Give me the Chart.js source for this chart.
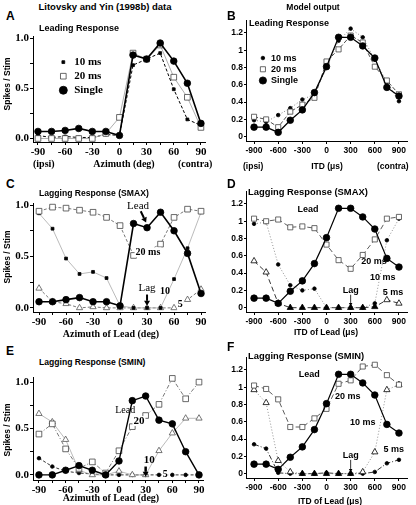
<!DOCTYPE html>
<html>
<head>
<meta charset="utf-8">
<script src="https://cdn.jsdelivr.net/npm/chart.js@4.4.1/dist/chart.umd.min.js"></script>
<style>
  body { margin: 0; background: #fff; }
  #fig { position: relative; width: 416px; height: 505px; overflow: hidden; }
  #fig canvas { position: absolute; }
  .t { position: absolute; white-space: nowrap; font-family: "Liberation Sans", Arial, sans-serif; font-weight: bold; color: #000; line-height: 1; }
  .s { font-family: "Liberation Serif", "Times New Roman", serif; }
  .c { transform: translate(-50%, -50%); }
  .l { transform: translate(0, -50%); }
  .r { transform: translate(-50%, -50%) rotate(-90deg); }
</style>
</head>
<body>
<div id="fig">
  <canvas id="pA"></canvas>
  <canvas id="pB"></canvas>
  <canvas id="pC"></canvas>
  <canvas id="pD"></canvas>
  <canvas id="pE"></canvas>
  <canvas id="pF"></canvas>

  <div class="t c" style="left:105px;top:7px;font-size:9.5px">Litovsky and Yin (1998b) data</div>
  <div class="t c" style="left:313px;top:7px;font-size:8.5px">Model output</div>

  <div class="t l" style="left:6px;top:16px;font-size:12px">A</div>
  <div class="t l" style="left:227px;top:16px;font-size:12px">B</div>
  <div class="t l" style="left:6px;top:184px;font-size:12px">C</div>
  <div class="t l" style="left:227px;top:184px;font-size:12px">D</div>
  <div class="t l" style="left:6px;top:351px;font-size:12px">E</div>
  <div class="t l" style="left:227px;top:347px;font-size:12px">F</div>

  <div class="t l" style="left:39px;top:28px;font-size:9px">Leading Response</div>
  <div class="t l" style="left:249px;top:23px;font-size:9px">Leading Response</div>
  <div class="t l" style="left:39px;top:193px;font-size:8.6px">Lagging Response (SMAX)</div>
  <div class="t l" style="left:248px;top:192px;font-size:9.4px">Lagging Response (SMAX)</div>
  <div class="t l" style="left:39px;top:362px;font-size:8.6px">Lagging Response (SMIN)</div>
  <div class="t l" style="left:248px;top:356px;font-size:9.4px">Lagging Response (SMIN)</div>

  <div class="t r" style="left:7px;top:84px;font-size:8.5px">Spikes / Stim</div>
  <div class="t r" style="left:7px;top:257px;font-size:8.5px">Spikes / Stim</div>
  <div class="t r" style="left:7px;top:430px;font-size:8.5px">Spikes / Stim</div>

  <div class="t s l" style="left:33px;top:164px;font-size:10px">(ipsi)</div>
  <div class="t s c" style="left:124px;top:164px;font-size:10px">Azimuth (deg)</div>
  <div class="t s l" style="left:178px;top:164px;font-size:10px">(contra)</div>

  <div class="t l" style="left:243px;top:166px;font-size:8.5px">(ipsi)</div>
  <div class="t c" style="left:327px;top:166px;font-size:8.5px">ITD (μs)</div>
  <div class="t l" style="left:377px;top:166px;font-size:8.5px">(contra)</div>

  <div class="t s c" style="left:111px;top:334px;font-size:10px">Azimuth of Lead (deg)</div>
  <div class="t c" style="left:326px;top:332px;font-size:8.5px">ITD of Lead (μs)</div>
  <div class="t s c" style="left:111px;top:498px;font-size:10px">Azimuth of Lead (deg)</div>
  <div class="t c" style="left:330px;top:501px;font-size:8.5px">ITD of Lead (μs)</div>
</div>

<script>
// x values
const deg = [-90, -75, -60, -45, -30, -15, 0, 15, 30, 45, 60, 75, 90];
const itd = [-900, -750, -600, -450, -300, -150, 0, 150, 300, 450, 600, 750, 900];

// tick labels (minor ticks get no label)
const degTicks = [-90, -60, -30, 0, 30, 60, 90];
const degMinor = [-75, -45, -15, 15, 45, 75];
const itdTicks = [-900, -600, -300, 0, 300, 600, 900];
const dataYTicks = [0, 0.5, 1];
const dataYMinor = [0.25, 0.75];
const modelYTicks = [0, 0.2, 0.4, 0.6, 0.8, 1, 1.2];

// A - Litovsky & Yin, leading response
const aSingle = [0.07, 0.07, 0.08, 0.10, 0.07, 0.07, 0.03, 0.83, 0.79, 0.95, 0.77, 0.55, 0.15];
const a20 = [0.00, 0.00, 0.00, 0.00, 0.00, 0.05, 0.21, 0.85, 0.79, 0.93, 0.61, 0.41, 0.11];
const a10 = [0.03, 0.01, 0.02, 0.01, 0.01, 0.04, 0.03, 0.73, 0.79, 0.85, 0.49, 0.19, 0.13];

// B - model, leading response
const bSingle = [0.11, 0.11, 0.05, 0.19, 0.31, 0.51, 0.81, 1.15, 1.15, 1.05, 0.91, 0.57, 0.47];
const b20 = [0.23, 0.20, 0.11, 0.29, 0.37, 0.45, 0.87, 1.01, 1.17, 1.09, 0.81, 0.65, 0.49];
const b10 = [0.19, 0.17, 0.25, 0.33, 0.43, 0.49, 0.80, 1.11, 1.25, 1.15, 0.89, 0.63, 0.41];

// C - data, lagging SMAX
const cLead = [0.06, 0.06, 0.08, 0.10, 0.06, 0.06, 0.02, 0.82, 0.78, 0.93, 0.75, 0.53, 0.14];
const c20 = [0.94, 0.98, 0.97, 0.95, 0.93, 0.88, 0.80, 0.51, 0.55, 0.62, 0.88, 0.96, 0.94];
const c10 = [0.92, 0.77, 0.48, 0.33, 0.35, 0.29, 0.02, 0.00, 0.00, 0.00, 0.28, 0.58, 0.93];
const c5 = [0.19, 0.06, 0.04, 0.00, 0.01, 0.00, 0.00, 0.00, 0.00, 0.00, 0.00, 0.08, 0.18];

// D - model, lagging SMAX
const dLead = [0.11, 0.11, 0.05, 0.19, 0.31, 0.51, 0.81, 1.15, 1.15, 1.05, 0.91, 0.57, 0.47];
const d20 = [1.03, 1.00, 1.02, 0.93, 0.94, 0.92, 0.73, 0.55, 0.45, 0.61, 0.79, 1.03, 1.05];
const d10 = [0.97, 0.99, 0.50, 0.26, 0.20, 0.22, 0.00, 0.00, 0.00, 0.00, 0.05, 0.78, 1.03];
const d5 = [0.54, 0.41, 0.05, 0.00, 0.00, 0.00, 0.00, 0.00, 0.00, 0.00, 0.01, 0.09, 0.05];

// E - data, lagging SMIN
const eLead = [0.00, 0.00, 0.05, 0.10, 0.05, 0.00, 0.15, 0.80, 0.85, 0.59, 0.55, 0.25, 0.00];
const e20 = [0.44, 0.55, 0.28, 0.07, 0.14, 0.02, 0.26, 0.52, 0.64, 0.76, 1.04, 0.82, 1.00];
const e10 = [0.66, 0.57, 0.38, 0.05, 0.00, 0.00, 0.04, 0.00, 0.00, 0.26, 0.45, 0.61, 0.61];
const e5 = [0.18, 0.09, 0.04, 0.02, 0.01, 0.00, 0.00, 0.00, 0.00, 0.00, 0.00, 0.00, 0.00];

// F - model, lagging SMIN
const fLead = [0.11, 0.11, 0.05, 0.19, 0.31, 0.51, 0.81, 1.15, 1.15, 1.05, 0.91, 0.57, 0.47];
const f20 = [1.02, 0.98, 0.86, 0.54, 0.54, 0.64, 0.75, 1.04, 1.08, 1.24, 1.26, 1.14, 1.03];
const f10 = [0.97, 0.82, 0.15, 0.02, 0.00, 0.00, 0.00, 0.00, 0.00, 0.02, 0.25, 0.97, 1.03];
const f5 = [0.34, 0.29, 0.01, 0.00, 0.00, 0.00, 0.01, 0.00, 0.00, 0.00, 0.02, 0.12, 0.16];

const SANS = '"Liberation Sans", Arial, sans-serif';
const SERIF = '"Liberation Serif", "Times New Roman", serif';

// marker / line looks
const solid = { borderColor: '#000', borderWidth: 1.5, pointStyle: 'circle', pointRadius: 3.3, pointBackgroundColor: '#000', pointBorderColor: '#000' };
const openSq = { pointStyle: 'rect', pointRadius: 4, pointBackgroundColor: '#fff', pointBorderColor: '#444' };
const smallDot = { pointStyle: 'circle', pointRadius: 1.8, pointBackgroundColor: '#000', pointBorderColor: '#000' };
const smallSq = { pointStyle: 'rect', pointRadius: 2.4, pointBackgroundColor: '#000', pointBorderColor: '#000' };
const openTri = { pointStyle: 'triangle', pointRadius: 3.6, pointBackgroundColor: '#fff', pointBorderColor: '#555' };
const zeroFill = c => (c.raw && c.raw.y <= 0.01 ? '#000' : '#fff');

function series(xs, ys, look, line) {
  return Object.assign({
    data: xs.map((x, i) => ({ x: x, y: ys[i] })),
    borderWidth: 0.8, pointBorderWidth: 0.8, tension: 0, clip: false
  }, look, line);
}

function drawArrow(ctx, x1, y1, x2, y2, w, head) {
  const a = Math.atan2(y2 - y1, x2 - x1);
  const bx = x2 - Math.cos(a) * head, by = y2 - Math.sin(a) * head;
  ctx.strokeStyle = '#000';
  ctx.fillStyle = '#000';
  ctx.lineWidth = w;
  ctx.setLineDash([]);
  ctx.beginPath();
  ctx.moveTo(x1, y1);
  ctx.lineTo(bx, by);
  ctx.stroke();
  ctx.beginPath();
  ctx.moveTo(x2, y2);
  ctx.lineTo(bx + Math.sin(a) * head * 0.6, by - Math.cos(a) * head * 0.6);
  ctx.lineTo(bx - Math.sin(a) * head * 0.6, by + Math.cos(a) * head * 0.6);
  ctx.closePath();
  ctx.fill();
}

function notesPlugin(items) {
  return {
    id: 'notes',
    afterDatasetsDraw(chart) {
      const ctx = chart.ctx;
      const xs = chart.scales.x, ys = chart.scales.y;
      ctx.save();
      items.forEach(n => {
        if (n.arrow) {
          const [x1, y1, x2, y2] = n.arrow;
          drawArrow(ctx, xs.getPixelForValue(x1), ys.getPixelForValue(y1),
            xs.getPixelForValue(x2), ys.getPixelForValue(y2), n.w || 1, n.head || 4);
        } else if (n.mark) {
          ctx.setLineDash([]);
          ctx.fillStyle = n.mark.pointBackgroundColor;
          ctx.strokeStyle = n.mark.pointBorderColor;
          ctx.lineWidth = 0.8;
          Chart.helpers.drawPoint(ctx, { pointStyle: n.mark.pointStyle, radius: n.mark.pointRadius, rotation: 0, borderWidth: 0.8 },
            xs.getPixelForValue(n.x), ys.getPixelForValue(n.y));
        } else {
          ctx.font = n.font;
          ctx.textAlign = n.align || 'center';
          ctx.textBaseline = 'middle';
          const px = xs.getPixelForValue(n.x), py = ys.getPixelForValue(n.y);
          if (n.bg) {
            const m = ctx.measureText(n.text).width;
            const x0 = n.align === 'left' ? px : px - m / 2;
            ctx.fillStyle = '#fff';
            ctx.fillRect(x0 - 1, py - 5, m + 2, 10);
          }
          ctx.fillStyle = '#000';
          ctx.fillText(n.text, px, py);
        }
      });
      ctx.restore();
    }
  };
}

function panel(id, area, model, xr, yr, datasets, notes) {
  const wy = model ? 40 : 33, pt = 8, pr = 6, hx = 20;
  const left = area.l - wy, top = area.t - pt;
  const cv = document.getElementById(id);
  cv.width = area.r + pr - left;
  cv.height = area.b - top + hx;
  cv.style.left = left + 'px';
  cv.style.top = top + 'px';
  const tickFont = model ? { family: SANS, size: 8.5, weight: 'bold' } : { family: SERIF, size: 11, weight: 'bold' };
  const xt = model ? itdTicks : degTicks.concat(degMinor);
  const yt = model ? modelYTicks : dataYTicks.concat(dataYMinor);
  const xLab = model ? itdTicks : degTicks;
  const yLab = model ? modelYTicks : dataYTicks;
  new Chart(cv, {
    type: 'line',
    data: { datasets: datasets },
    options: {
      responsive: false,
      animation: false,
      events: [],
      layout: { padding: { top: pt, right: pr, left: 0, bottom: 0 } },
      plugins: { legend: { display: false }, tooltip: { enabled: false } },
      scales: {
        x: {
          type: 'linear', min: xr[0], max: xr[1],
          afterFit: s => { s.height = hx; },
          afterBuildTicks: s => { s.ticks = xt.map(v => ({ value: v })).sort((p, q) => p.value - q.value); },
          grid: { display: true, drawOnChartArea: false, color: '#000', tickLength: 3 },
          border: { display: true, color: '#000', width: 1 },
          ticks: { font: tickFont, color: '#000', padding: model ? 2 : 1, maxRotation: 0, autoSkip: false,
            callback: v => xLab.includes(v) ? String(v) : '' }
        },
        y: {
          type: 'linear', min: yr[0], max: yr[1],
          afterFit: s => { s.width = wy; },
          afterBuildTicks: s => { s.ticks = yt.map(v => ({ value: v })).sort((p, q) => p.value - q.value); },
          grid: { display: true, drawOnChartArea: false, color: '#000', tickLength: model ? 2 : 3 },
          border: { display: true, color: '#000', width: 1 },
          ticks: { font: tickFont, color: '#000', padding: 1, autoSkip: false,
            callback: v => yLab.includes(v) ? (model ? String(v) : v.toFixed(1)) : '' }
        }
      }
    },
    plugins: [notesPlugin(notes)]
  });
}

const serifB = 'bold 11px ' + SERIF;
const serifR = '11px ' + SERIF;
const sansB = 'bold 9px ' + SANS;

// A
panel('pA', { l: 33, t: 36, r: 205, b: 142 }, false, [-95.5, 94.5], [-0.035, 1.02], [
  series(deg, aSingle, solid, { borderWidth: 1.6 }),
  series(deg, a20, openSq, { borderColor: '#999', borderWidth: 0.8 }),
  series(deg, a10, smallSq, { borderColor: '#000', borderWidth: 1, borderDash: [3, 2], pointRadius: 2 })
], [
  { mark: Object.assign({}, smallSq, { pointRadius: 2 }), x: -62, y: 0.76 },
  { mark: openSq, x: -62, y: 0.62 },
  { mark: Object.assign({}, solid, { pointRadius: 4 }), x: -62, y: 0.48 },
  { text: '10 ms', x: -50, y: 0.76, font: serifB, align: 'left' },
  { text: '20 ms', x: -50, y: 0.62, font: serifB, align: 'left' },
  { text: 'Single', x: -50, y: 0.48, font: serifB, align: 'left' }
]);

// B
panel('pB', { l: 246, t: 20, r: 407, b: 141 }, true, [-1000, 1000], [-0.05, 1.35], [
  series(itd, bSingle, solid, { borderWidth: 1.3 }),
  series(itd, b20, openSq, { borderColor: '#222', borderDash: [4, 2], pointRadius: 3.6 }),
  series(itd, b10, smallDot, { borderColor: '#666', borderDash: [1, 2] })
], [
  { mark: smallDot, x: -790, y: 0.91 },
  { mark: Object.assign({}, openSq, { pointRadius: 3.6 }), x: -790, y: 0.78 },
  { mark: Object.assign({}, solid, { pointRadius: 3.6 }), x: -790, y: 0.65 },
  { text: '10 ms', x: -690, y: 0.91, font: sansB, align: 'left' },
  { text: '20 ms', x: -690, y: 0.78, font: sansB, align: 'left' },
  { text: 'Single', x: -690, y: 0.65, font: sansB, align: 'left' }
]);

// C
panel('pC', { l: 33, t: 203, r: 205, b: 312 }, false, [-96.7, 94.4], [-0.04, 1.02], [
  series(deg, cLead, solid, { borderWidth: 1.6 }),
  series(deg, c20, openSq, { borderColor: '#555', borderDash: [3, 2] }),
  series(deg, c10, smallSq, { borderColor: '#aaa', pointRadius: 2 }),
  series(deg, c5, openTri, { borderColor: '#555', borderDash: [3, 2] })
], [
  { text: '20 ms', x: 31, y: 0.54, font: 'bold 10px ' + SERIF, bg: true },
  { text: 'Lead', x: 20, y: 0.99, font: serifR },
  { arrow: [23, 0.94, 29, 0.83], w: 2, head: 5 },
  { text: 'Lag', x: 30, y: 0.19, font: serifR },
  { arrow: [30, 0.13, 30, 0.02], w: 2, head: 5 },
  { text: '10', x: 50, y: 0.16, font: 'bold 10px ' + SERIF },
  { text: '5', x: 67, y: 0.03, font: 'bold 10px ' + SERIF, bg: true }
]);

// D
panel('pD', { l: 246, t: 191, r: 407, b: 312 }, true, [-1000, 1000], [-0.05, 1.35], [
  series(itd, dLead, solid, { borderWidth: 1.2 }),
  series(itd, d20, openSq, { borderColor: '#333', borderDash: [5, 3], pointRadius: 3.6 }),
  series(itd, d10, smallDot, { borderColor: '#777', borderDash: [1, 2] }),
  series(itd, d5, openTri, { borderColor: '#000', borderDash: [5, 3], pointBackgroundColor: zeroFill, pointBorderColor: '#000' })
], [
  { text: 'Lead', x: -230, y: 1.13, font: sansB },
  { text: '20 ms', x: 590, y: 0.53, font: sansB },
  { text: '10 ms', x: 700, y: 0.35, font: sansB },
  { text: 'Lag', x: 300, y: 0.2, font: sansB },
  { arrow: [300, 0.15, 300, 0.02], w: 0.8, head: 3 },
  { text: '5 ms', x: 825, y: 0.18, font: sansB }
]);

// E
panel('pE', { l: 33, t: 377, r: 203, b: 480 }, false, [-96.7, 94.5], [-0.055, 1.055], [
  series(deg, eLead, solid, { borderWidth: 1.4 }),
  series(deg, e20, openSq, { borderColor: '#555', borderDash: [4, 2, 1, 2] }),
  series(deg, e10, openTri, { borderColor: '#aaa' }),
  series(deg, e5, smallDot, { borderColor: '#000', borderDash: [3, 2] })
], [
  { text: 'Lead', x: 7, y: 0.7, font: '10px ' + SERIF },
  { text: '20', x: 22.5, y: 0.58, font: 'bold 11px ' + SERIF, bg: true },
  { text: '10', x: 34, y: 0.16, font: 'bold 11px ' + SERIF },
  { arrow: [30, 0.09, 30, -0.02], w: 2.5, head: 5 },
  { text: '5', x: 52, y: 0.0, font: 'bold 10px ' + SERIF, bg: true }
]);

// F
panel('pF', { l: 246, t: 357, r: 407, b: 478 }, true, [-1000, 1000], [-0.05, 1.35], [
  series(itd, fLead, solid, { borderWidth: 1.2 }),
  series(itd, f20, openSq, { borderColor: '#333', borderDash: [5, 3], pointRadius: 3.6 }),
  series(itd, f10, openTri, { borderColor: '#777', borderDash: [1, 2], pointBackgroundColor: zeroFill, pointBorderColor: '#000' }),
  series(itd, f5, smallDot, { borderColor: '#000', borderDash: [5, 2, 1, 2] })
], [
  { text: 'Lead', x: -215, y: 1.15, font: sansB },
  { text: '20 ms', x: 265, y: 0.89, font: sansB },
  { text: '10 ms', x: 450, y: 0.59, font: sansB },
  { text: '5 ms', x: 835, y: 0.28, font: sansB },
  { text: 'Lag', x: 300, y: 0.21, font: sansB },
  { arrow: [300, 0.16, 300, 0.02], w: 0.8, head: 3 }
]);
</script>
</body>
</html>
